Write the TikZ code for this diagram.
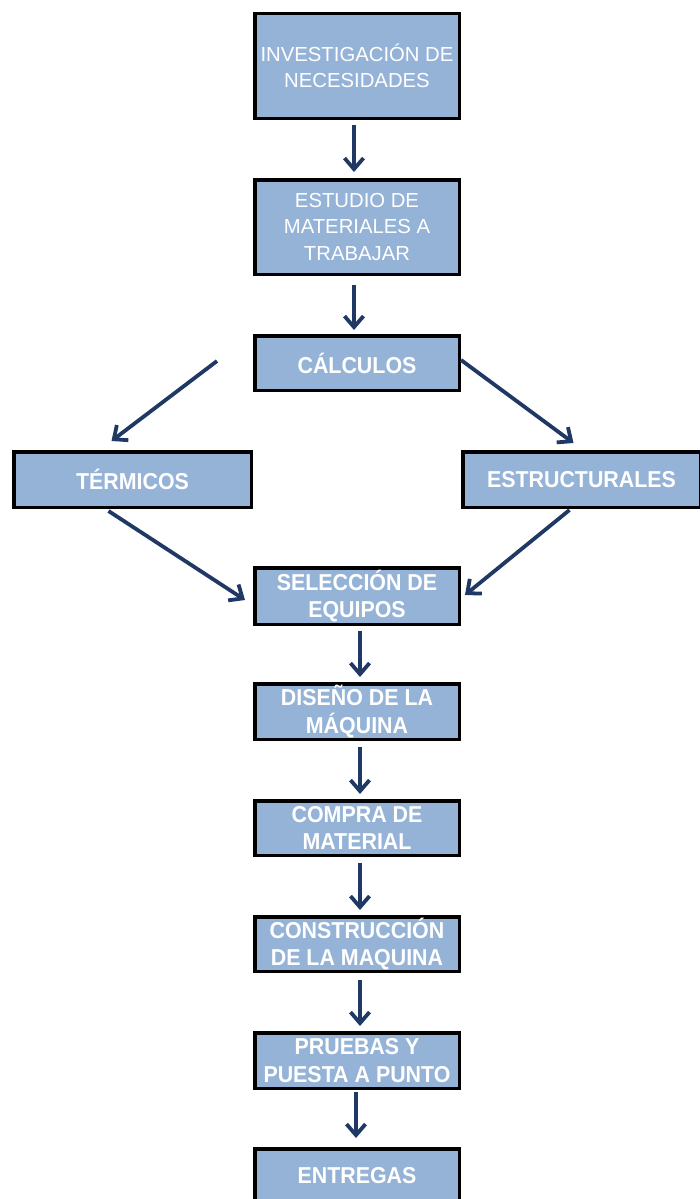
\documentclass[tikz,border=0pt]{standalone}
\usepackage{fontspec}
\setmainfont{Liberation Sans}[BoldFeatures={FakeStretch=0.93}]
\usetikzlibrary{arrows.meta}
\definecolor{boxfill}{HTML}{95B3D7}
\definecolor{arrowblue}{HTML}{1F3864}
\tikzset{
  stepbox/.style={draw=black, line width=3.5pt, fill=boxfill, text=white,
    align=center, inner sep=0pt, minimum width=204.5pt},
  plain/.style={font=\fontsize{20.3}{26.5}\selectfont},
  heavy/.style={font=\bfseries\fontsize{23}{27.5}\selectfont},
  link/.style={draw=arrowblue, line width=3.8pt,
    -{Straight Barb[length=11pt,width=19pt,line width=3.8pt]}}
}
\begin{document}
\begin{tikzpicture}[x=1pt,y=-1pt]
\useasboundingbox (0,0) rectangle (700,1199);
% main column
\node[stepbox,plain,minimum height=104.5pt] (inv) at (357,66) {INVESTIGACIÓN DE\\NECESIDADES};
\node[stepbox,plain,minimum height=94.5pt] (est) at (357,227) {ESTUDIO DE\\MATERIALES A\\TRABAJAR};
\node[stepbox,heavy,minimum height=54.5pt] (cal) at (357,363) {CÁLCULOS};
\node[stepbox,heavy,minimum height=55.5pt,minimum width=237.5pt] (ter) at (132.5,479.5) {TÉRMICOS};
\node[stepbox,heavy,minimum height=55.5pt,minimum width=237.5pt] (str) at (581.5,479.5) {ESTRUCTURALES};
\node[stepbox,heavy,minimum height=56.5pt] (sel) at (357,596) {SELECCIÓN DE\\EQUIPOS};
\node[stepbox,heavy,minimum height=55.5pt] (dis) at (357,711.5) {DISEÑO DE LA\\MÁQUINA};
\node[stepbox,heavy,minimum height=54.5pt] (com) at (357,828) {COMPRA DE\\MATERIAL};
\node[stepbox,heavy,minimum height=54.5pt] (con) at (357,944) {CONSTRUCCIÓN\\DE LA MAQUINA};
\node[stepbox,heavy,minimum height=55.5pt] (pru) at (357,1060.5) {PRUEBAS Y\\PUESTA A PUNTO};
\node[stepbox,heavy,minimum height=54.5pt] (ent) at (357,1176) {ENTREGAS};
% free start of the left branch
\coordinate (lstart) at (217,361);
% connectors
\draw[link] ([xshift=-3pt,yshift=-5pt]inv.south) -- ([xshift=-3pt,yshift=6pt]est.north);
\draw[link] ([xshift=-3pt,yshift=-9pt]est.south) -- ([xshift=-3pt,yshift=4pt]cal.north);
\draw[link] (lstart) -- ([xshift=-21pt,yshift=9pt]ter.north);
\draw[link] ([yshift=3pt]cal.east) -- ([xshift=-8pt,yshift=7pt]str.north);
\draw[link] ([xshift=-24pt,yshift=-2pt]ter.south) -- ([xshift=-8pt,yshift=-4pt]sel.west);
\draw[link] ([xshift=-12pt,yshift=-1pt]str.south) -- ([xshift=4pt,yshift=1pt]sel.east);
\draw[link] ([xshift=3pt,yshift=-5pt]sel.south) -- ([xshift=3pt,yshift=5pt]dis.north);
\draw[link] ([xshift=3pt,yshift=-6pt]dis.south) -- ([xshift=3pt,yshift=5pt]com.north);
\draw[link] ([xshift=3pt,yshift=-6pt]com.south) -- ([xshift=3pt,yshift=5pt]con.north);
\draw[link] ([xshift=3pt,yshift=-7pt]con.south) -- ([xshift=3pt,yshift=5pt]pru.north);
\draw[link] ([xshift=-1pt,yshift=-2pt]pru.south) -- ([xshift=-1pt,yshift=9pt]ent.north);
\end{tikzpicture}
\end{document}
